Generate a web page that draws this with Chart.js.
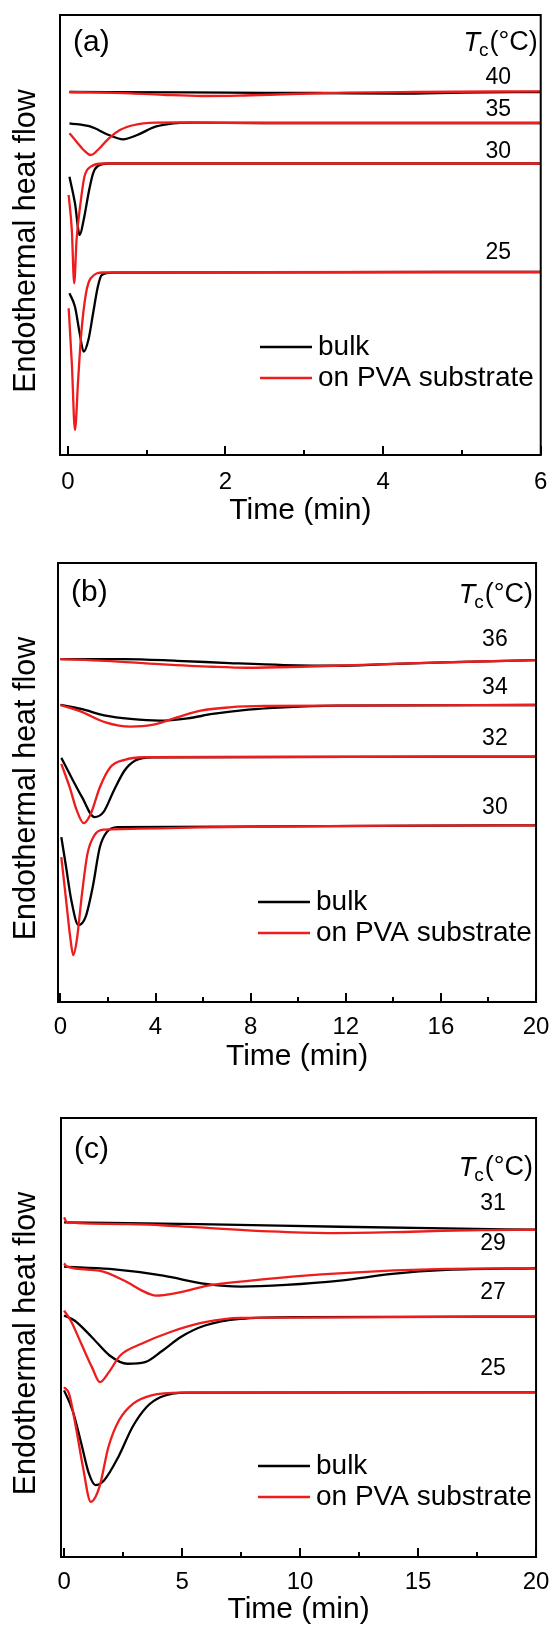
<!DOCTYPE html>
<html lang="en">
<head>
<meta charset="UTF-8">
<title>Endothermal heat flow vs time</title>
<script src="https://cdn.jsdelivr.net/npm/chart.js"></script>
<style>
  body { margin: 0; background: #fff; }
  canvas { display: block; }
</style>
</head>
<body>
<canvas id="chartA" width="560" height="540"></canvas>
<canvas id="chartB" width="560" height="540"></canvas>
<canvas id="chartC" width="560" height="548"></canvas>
<script>
// time in min, heat flow in arbitrary units (curves offset vertically)

// panel (a)
const a40BulkT = [0.02, 1.5, 2.5, 3.2, 4.2, 5.0, 6.0];
const a40BulkV = [36.3, 36.27, 36.22, 36.2, 36.13, 36.24, 36.3];
const a40PvaT = [0.02, 0.8, 1.25, 1.7, 2.16, 2.84, 3.52, 4.42, 6.0];
const a40PvaV = [36.3, 36.17, 36.0, 35.9, 35.93, 36.1, 36.23, 36.3, 36.37];
const a35BulkT = [0.02, 0.29, 0.52, 0.70, 0.88, 1.11, 1.34, 1.56, 2.5, 6.0];
const a35BulkV = [33.17, 32.83, 32.0, 31.57, 32.0, 32.83, 33.17, 33.23, 33.2, 33.2];
const a35PvaT = [0.02, 0.11, 0.20, 0.29, 0.38, 0.52, 0.66, 0.84, 1.11, 1.38, 2.5, 6.0];
const a35PvaV = [32.17, 31.33, 30.5, 30.0, 30.5, 31.67, 32.5, 33.0, 33.23, 33.25, 33.2, 33.2];
const a30BulkT = [0.02, 0.09, 0.15, 0.20, 0.27, 0.32, 0.38, 0.52, 1.0, 6.0];
const a30BulkV = [27.83, 25.17, 22.0, 23.5, 26.5, 28.17, 28.9, 29.15, 29.15, 29.15];
const a30PvaT = [0.01, 0.05, 0.08, 0.11, 0.16, 0.21, 0.29, 0.45, 6.0];
const a30PvaV = [26.0, 22.5, 17.17, 21.5, 25.17, 27.83, 28.83, 29.15, 29.15];
const a25BulkT = [0.02, 0.09, 0.15, 0.20, 0.26, 0.32, 0.38, 0.43, 0.57, 6.0];
const a25BulkV = [16.17, 14.83, 12.17, 10.33, 11.5, 14.17, 16.83, 18.0, 18.23, 18.3];
const a25PvaT = [0.01, 0.05, 0.09, 0.13, 0.17, 0.23, 0.29, 0.45, 6.0];
const a25PvaV = [14.67, 9.17, 2.5, 7.5, 12.17, 16.17, 17.67, 18.25, 18.3];

// panel (b)
const b36BulkT = [0, 2.66, 4.9, 7.1, 9.4, 11.6, 13.8, 16.1, 20];
const b36BulkV = [34.37, 34.37, 34.2, 33.97, 33.77, 33.7, 33.87, 34.03, 34.27];
const b36PvaT = [0, 1.9, 4.15, 6.4, 7.9, 10.1, 12.35, 14.6, 17.6, 20];
const b36PvaV = [34.37, 34.2, 33.87, 33.6, 33.5, 33.6, 33.77, 33.93, 34.13, 34.27];
const b34BulkT = [0, 0.87, 1.9, 2.95, 4.15, 5.35, 6.4, 7.9, 9.4, 11.6, 20];
const b34BulkV = [29.77, 29.37, 28.7, 28.37, 28.2, 28.43, 28.87, 29.3, 29.53, 29.7, 29.77];
const b34PvaT = [0, 0.87, 1.9, 2.95, 3.85, 4.9, 5.9, 7.1, 8.6, 20];
const b34PvaV = [29.77, 29.1, 28.03, 27.6, 27.77, 28.53, 29.2, 29.53, 29.67, 29.77];
const b32BulkT = [0.04, 0.46, 0.91, 1.43, 1.81, 2.25, 2.70, 3.15, 3.9, 20];
const b32BulkV = [24.47, 22.53, 20.53, 18.53, 19.03, 21.2, 23.2, 24.2, 24.53, 24.6];
const b32PvaT = [0.04, 0.39, 0.69, 0.98, 1.28, 1.66, 2.1, 2.7, 3.5, 20];
const b32PvaV = [23.87, 21.53, 19.2, 17.93, 18.87, 21.53, 23.53, 24.27, 24.53, 24.6];
const b30BulkT = [0.04, 0.24, 0.46, 0.76, 1.06, 1.36, 1.66, 1.95, 2.4, 20];
const b30BulkV = [16.53, 13.53, 10.2, 7.7, 8.53, 11.53, 15.53, 17.03, 17.53, 17.7];
const b30PvaT = [0.04, 0.24, 0.43, 0.54, 0.69, 0.91, 1.14, 1.43, 1.81, 20];
const b30PvaV = [14.53, 10.2, 6.2, 4.7, 6.2, 10.87, 14.87, 16.7, 17.27, 17.7];

// panel (c)
const c31BulkT = [0, 5.7, 11.7, 16.2, 20];
const c31BulkV = [33.53, 33.37, 33.1, 32.93, 32.8];
const c31PvaT = [0, 0.13, 2.7, 5.7, 8.7, 11.2, 14.7, 17.7, 20];
const c31PvaV = [34.03, 33.53, 33.37, 33.03, 32.63, 32.47, 32.6, 32.77, 32.8];
const c29BulkT = [0, 1.93, 4.2, 6.0, 7.5, 9.4, 11.7, 13.9, 16.2, 20];
const c29BulkV = [29.1, 28.87, 28.2, 27.37, 27.1, 27.27, 27.7, 28.37, 28.77, 28.93];
const c29PvaT = [0, 0.13, 1.48, 2.68, 3.3, 3.9, 4.78, 6.1, 7.9, 10.2, 13.2, 16.2, 20];
const c29PvaV = [29.43, 29.1, 28.7, 27.53, 26.7, 26.2, 26.47, 27.2, 27.7, 28.2, 28.63, 28.87, 28.93];
const c27BulkT = [0, 0.44, 1.18, 1.93, 2.68, 3.43, 4.18, 4.93, 5.97, 7.47, 10, 20];
const c27BulkV = [24.2, 23.7, 22.03, 20.2, 19.37, 19.53, 20.7, 22.03, 23.2, 23.87, 24.05, 24.1];
const c27PvaT = [0, 0.28, 0.73, 1.18, 1.52, 1.9, 2.38, 3.28, 4.48, 5.97, 7.47, 20];
const c27PvaV = [24.7, 23.7, 21.37, 19.03, 17.53, 18.53, 20.2, 21.37, 22.53, 23.53, 23.97, 24.1];
const c25BulkT = [0, 0.36, 0.73, 1.05, 1.33, 1.7, 2.3, 2.9, 3.5, 4.1, 5.2, 20];
const c25BulkV = [16.7, 14.7, 11.37, 8.37, 7.2, 7.7, 10.03, 13.03, 15.03, 16.03, 16.47, 16.5];
const c25PvaT = [0, 0.21, 0.5, 0.8, 1.13, 1.5, 1.88, 2.33, 2.93, 3.7, 5, 20];
const c25PvaV = [17.03, 16.37, 13.03, 9.03, 5.53, 7.03, 11.03, 13.7, 15.37, 16.2, 16.47, 16.5];

// axis ticks and labels
const ticksA = [0, 2, 4, 6];
const minorA = [1, 3, 5];
const ticksB = [0, 4, 8, 12, 16, 20];
const minorB = [2, 6, 10, 14, 18];
const ticksC = [0, 5, 10, 15, 20];
const minorC = [2.5, 7.5, 12.5, 17.5];
const tempsA = ['40', '35', '30', '25'];
const tempsB = ['36', '34', '32', '30'];
const tempsC = ['31', '29', '27', '25'];
const seriesNames = ['bulk', 'on PVA substrate'];
const yTitle = 'Endothermal heat flow';

const BLACK = '#000000';
const RED = '#ee1c1c';
const FONT = '"Liberation Sans", Arial, sans-serif';

function pts(t, v) {
    return t.map((tt, i) => ({ x: tt, y: v[i] }));
}

const decorPlugin = {
    id: 'decor',
    afterDraw(chart, args, o) {
        const ctx = chart.ctx;
        const a = chart.chartArea;
        const x = chart.scales.x;
        const y = chart.scales.y;
        ctx.save();
        ctx.strokeStyle = '#000';
        ctx.lineWidth = 2;
        // inward ticks on the bottom axis
        ctx.beginPath();
        o.major.forEach(v => {
            const px = Math.round(x.getPixelForValue(v));
            ctx.moveTo(px, a.bottom);
            ctx.lineTo(px, a.bottom - 9);
        });
        o.minor.forEach(v => {
            const px = Math.round(x.getPixelForValue(v));
            ctx.moveTo(px, a.bottom);
            ctx.lineTo(px, a.bottom - 5);
        });
        ctx.stroke();
        ctx.strokeRect(a.left, a.top, a.right - a.left, a.bottom - a.top);

        ctx.fillStyle = '#000';
        ctx.textBaseline = 'middle';

        // y title, a little below the middle of the frame like the original
        ctx.save();
        ctx.font = '30.5px ' + FONT;
        ctx.textAlign = 'center';
        ctx.translate(27, (a.top + a.bottom) / 2 + 6);
        ctx.rotate(-Math.PI / 2);
        ctx.fillText(yTitle, 0, 0);
        ctx.restore();

        // temperature labels
        ctx.font = '23px ' + FONT;
        ctx.textAlign = 'center';
        o.temps.forEach((t, i) => {
            ctx.fillText(t, x.getPixelForValue(o.tempX), y.getPixelForValue(o.tempY[i]));
        });

        // panel tag
        ctx.font = '30px ' + FONT;
        ctx.textAlign = 'left';
        ctx.fillText(o.tag, a.left + 13, a.top + o.tagDy);

        // T_c(°C) header
        const hy = a.top + o.headDy;
        ctx.font = 'italic 27px ' + FONT;
        const wT = ctx.measureText('T').width;
        ctx.font = '19px ' + FONT;
        const wc = ctx.measureText('c').width;
        ctx.font = '27px ' + FONT;
        const wp = ctx.measureText('(°C)').width;
        let hx = a.right - 3 - (wT + wc + wp);
        ctx.font = 'italic 27px ' + FONT;
        ctx.fillText('T', hx, hy);
        hx += wT - 1;
        ctx.font = '19px ' + FONT;
        ctx.fillText('c', hx, hy + 8);
        hx += wc + 1;
        ctx.font = '27px ' + FONT;
        ctx.fillText('(°C)', hx, hy);

        // legend
        ctx.font = '28px ' + FONT;
        [BLACK, RED].forEach((col, i) => {
            const ly = a.top + o.legDy + i * 31;
            ctx.strokeStyle = col;
            ctx.lineWidth = 2.5;
            ctx.beginPath();
            ctx.moveTo(a.left + o.legDx, ly);
            ctx.lineTo(a.left + o.legDx + 52, ly);
            ctx.stroke();
            ctx.fillText(seriesNames[i], a.left + o.legDx + 58, ly);
        });
        ctx.restore();
    }
};

function makePanel(id, p) {
    const datasets = [];
    // red curves first so they sit on top of the black ones
    p.pva.forEach(c => datasets.push({ data: pts(c[0], c[1]), borderColor: RED }));
    p.bulk.forEach(c => datasets.push({ data: pts(c[0], c[1]), borderColor: BLACK }));
    return new Chart(document.getElementById(id), {
        type: 'line',
        data: { datasets: datasets },
        options: {
            responsive: false,
            animation: false,
            devicePixelRatio: 1,
            layout: { padding: { top: p.padTop, right: p.padRight, left: 0, bottom: 0 } },
            elements: {
                point: { radius: 0 },
                line: { borderWidth: 2.3, cubicInterpolationMode: 'monotone', fill: false }
            },
            plugins: {
                legend: { display: false },
                tooltip: { enabled: false },
                decor: {
                    major: p.major, minor: p.minor, temps: p.temps,
                    tempX: p.tempX, tempY: p.tempY, tag: p.tag,
                    tagDy: p.tagDy, headDy: p.headDy, legDx: p.legDx, legDy: p.legDy
                }
            },
            scales: {
                x: {
                    type: 'linear',
                    min: p.xMin,
                    max: p.xMax,
                    afterBuildTicks: s => { s.ticks = p.major.map(v => ({ value: v })); },
                    afterFit: s => { s.height = p.xAxisH; },
                    grid: { display: false, drawTicks: false },
                    border: { display: false },
                    ticks: { color: '#000', font: { family: FONT, size: 24 }, padding: p.tickPad, maxRotation: 0, autoSkip: false },
                    title: { display: true, text: 'Time (min)', color: '#000', font: { family: FONT, size: 30 }, padding: { top: 0, bottom: p.titlePad } }
                },
                y: {
                    min: 0,
                    max: 44,
                    afterFit: s => { s.width = p.yAxisW; },
                    grid: { display: false, drawTicks: false },
                    border: { display: false },
                    ticks: { display: false },
                    title: { display: false }
                }
            }
        },
        plugins: [decorPlugin]
    });
}

makePanel('chartA', {
    bulk: [[a40BulkT, a40BulkV], [a35BulkT, a35BulkV], [a30BulkT, a30BulkV], [a25BulkT, a25BulkV]],
    pva: [[a40PvaT, a40PvaV], [a35PvaT, a35PvaV], [a30PvaT, a30PvaV], [a25PvaT, a25PvaV]],
    major: ticksA, minor: minorA, temps: tempsA,
    tempX: 5.46, tempY: [37.7, 34.5, 30.3, 20.2],
    tag: '(a)', tagDy: 28, headDy: 28, legDx: 200, legDy: 332,
    padTop: 15, padRight: 16, xAxisH: 85, yAxisW: 60, xMin: -0.1, xMax: 6, tickPad: 12.6, titlePad: 11
});

makePanel('chartB', {
    bulk: [[b36BulkT, b36BulkV], [b34BulkT, b34BulkV], [b32BulkT, b32BulkV], [b30BulkT, b30BulkV]],
    pva: [[b36PvaT, b36PvaV], [b34PvaT, b34PvaV], [b32PvaT, b32PvaV], [b30PvaT, b30PvaV]],
    major: ticksB, minor: minorB, temps: tempsB,
    tempX: 18.27, tempY: [36.3, 31.5, 26.4, 19.5],
    tag: '(b)', tagDy: 30, headDy: 32, legDx: 200, legDy: 339,
    padTop: 23, padRight: 18, xAxisH: 78, yAxisW: 58, xMin: -0.1, xMax: 20, tickPad: 10.6, titlePad: 5
});

makePanel('chartC', {
    bulk: [[c31BulkT, c31BulkV], [c29BulkT, c29BulkV], [c27BulkT, c27BulkV], [c25BulkT, c25BulkV]],
    pva: [[c31PvaT, c31PvaV], [c29PvaT, c29PvaV], [c27PvaT, c27PvaV], [c25PvaT, c25PvaV]],
    major: ticksC, minor: minorC, temps: tempsC,
    tempX: 18.18, tempY: [35.4, 31.4, 26.5, 18.9],
    tag: '(c)', tagDy: 32, headDy: 50, legDx: 197, legDy: 348,
    padTop: 38, padRight: 16, xAxisH: 71, yAxisW: 61, xMin: -0.13, xMax: 20, tickPad: 10.6, titlePad: 0
});
</script>
</body>
</html>
